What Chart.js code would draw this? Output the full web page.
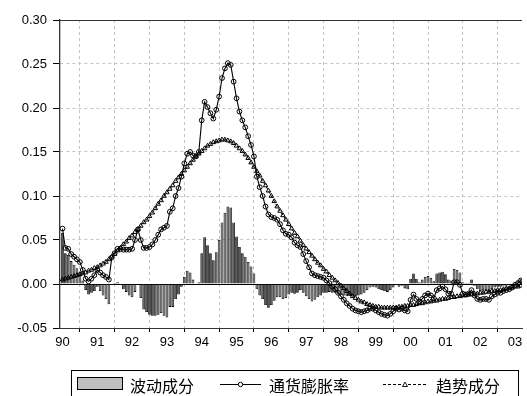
<!DOCTYPE html>
<html>
<head>
<meta charset="utf-8">
<script src="https://cdn.jsdelivr.net/npm/chart.js@4.4.1/dist/chart.umd.min.js"></script>
<style>
html,body{margin:0;padding:0;background:#fff;width:527px;height:396px;overflow:hidden;}
#wrap{position:relative;width:527px;height:396px;}
#c{position:absolute;left:0;top:0;}
#legend{position:absolute;left:71px;top:370px;width:448px;height:32px;border:1px solid #000;box-sizing:border-box;font-family:"Noto Sans CJK SC",sans-serif;font-size:16px;color:#000;}
#legend .it{position:absolute;top:0;height:28px;line-height:28px;white-space:nowrap;}
#legend svg{position:absolute;}
</style>
</head>
<body>
<div id="wrap">
<canvas id="c" width="527" height="396"></canvas>
<div id="legend">
  <svg style="left:5px;top:6px" width="47" height="14"><rect x="0.5" y="0.5" width="45" height="12" fill="#c0c0c0" stroke="#000" stroke-width="1"/></svg>
  <span class="it" style="left:58px">波动成分</span>
  <svg style="left:148px;top:8px" width="42" height="10"><line x1="0" y1="5.5" x2="41" y2="5.5" stroke="#000" stroke-width="1"/><circle cx="20.5" cy="5.5" r="2.2" fill="#fff" stroke="#000" stroke-width="1"/></svg>
  <span class="it" style="left:197px">通货膨胀率</span>
  <svg style="left:311px;top:8px" width="44" height="10"><line x1="0" y1="5.5" x2="43" y2="5.5" stroke="#000" stroke-width="1" stroke-dasharray="3,2"/><polygon points="22,3 24.5,7.5 19.5,7.5" fill="#fff" stroke="#000" stroke-width="0.9"/></svg>
  <span class="it" style="left:364px">趋势成分</span>
</div>
</div>
<script>
// categories: monthly observations Jan 1990 .. Mar 2003
const months = [];
for (let i = 0; i < 159; i++) {
  months.push((1990 + Math.floor(i / 12)) + '-' + String(i % 12 + 1).padStart(2, '0'));
}
const yearLabels = ['90','91','92','93','94','95','96','97','98','99','00','01','02','03'];
const yTickValues = [-0.05, 0.00, 0.05, 0.10, 0.15, 0.20, 0.25, 0.30];

// 通货膨胀率
const inflation = [
  0.063,0.041,0.040,0.034,0.031,0.028,0.025,0.016,0.006,0.003,0.006,0.010,
  0.016,0.013,0.010,0.008,0.005,0.030,0.035,0.040,0.040,0.039,0.039,0.039,
  0.040,0.050,0.062,0.050,0.041,0.041,0.042,0.045,0.050,0.056,0.062,0.064,
  0.066,0.082,0.086,0.100,0.109,0.122,0.137,0.148,0.150,0.146,0.145,0.150,
  0.186,0.207,0.201,0.194,0.188,0.198,0.213,0.234,0.245,0.251,0.249,0.230,
  0.211,0.196,0.186,0.178,0.168,0.158,0.145,0.122,0.110,0.100,0.088,0.079,
  0.076,0.075,0.073,0.068,0.061,0.057,0.056,0.053,0.047,0.044,0.042,0.034,
  0.026,0.019,0.012,0.010,0.009,0.008,0.007,0.004,0.001,-0.003,-0.006,-0.010,
  -0.014,-0.018,-0.022,-0.025,-0.028,-0.030,-0.031,-0.032,-0.031,-0.030,-0.028,-0.028,
  -0.030,-0.032,-0.034,-0.035,-0.036,-0.034,-0.031,-0.028,-0.029,-0.028,-0.030,-0.031,
  -0.018,-0.012,-0.017,-0.020,-0.017,-0.013,-0.011,-0.013,-0.016,-0.007,-0.005,-0.003,
  -0.006,-0.011,-0.011,0.002,0.002,-0.001,-0.011,-0.012,-0.011,-0.007,-0.013,-0.017,
  -0.018,-0.017,-0.017,-0.018,-0.014,-0.012,-0.010,-0.010,-0.008,-0.007,-0.006,-0.004,
  -0.001,0.001,0.004
];

// 趋势成分
const trend = [
  0.005,0.006,0.007,0.008,0.009,0.010,0.011,0.012,0.013,0.015,0.016,0.018,
  0.019,0.021,0.023,0.025,0.028,0.031,0.034,0.038,0.041,0.045,0.048,0.052,
  0.055,0.059,0.062,0.066,0.070,0.073,0.077,0.081,0.086,0.091,0.095,0.100,
  0.104,0.108,0.112,0.117,0.121,0.125,0.129,0.133,0.137,0.141,0.145,0.148,
  0.151,0.154,0.157,0.159,0.161,0.162,0.163,0.164,0.164,0.163,0.162,0.160,
  0.157,0.154,0.151,0.147,0.143,0.138,0.133,0.128,0.123,0.117,0.112,0.106,
  0.100,0.094,0.088,0.083,0.078,0.073,0.068,0.063,0.058,0.054,0.049,0.044,
  0.040,0.036,0.032,0.028,0.024,0.021,0.017,0.014,0.010,0.007,0.004,0.001,
  -0.002,-0.005,-0.008,-0.011,-0.014,-0.016,-0.018,-0.020,-0.021,-0.023,-0.024,-0.025,
  -0.026,-0.026,-0.027,-0.027,-0.027,-0.027,-0.027,-0.027,-0.026,-0.026,-0.025,-0.025,
  -0.024,-0.024,-0.023,-0.022,-0.022,-0.021,-0.020,-0.020,-0.019,-0.019,-0.018,-0.017,
  -0.017,-0.016,-0.015,-0.015,-0.014,-0.014,-0.013,-0.013,-0.012,-0.012,-0.011,-0.011,
  -0.010,-0.010,-0.009,-0.009,-0.008,-0.008,-0.007,-0.007,-0.006,-0.005,-0.005,-0.004,
  -0.003,-0.003,-0.002
];

// 波动成分
const cycle = [
  0.058,0.035,0.033,0.026,0.022,0.018,0.014,0.004,-0.007,-0.012,-0.010,-0.008,
  -0.003,-0.008,-0.013,-0.017,-0.023,-0.001,0.001,0.002,-0.001,-0.006,-0.009,-0.013,
  -0.015,-0.009,0.000,-0.016,-0.029,-0.032,-0.035,-0.036,-0.036,-0.035,-0.033,-0.036,
  -0.038,-0.026,-0.026,-0.017,-0.012,-0.003,0.008,0.015,0.013,0.005,0.000,0.002,
  0.035,0.053,0.044,0.035,0.027,0.036,0.050,0.070,0.081,0.088,0.087,0.070,
  0.054,0.042,0.035,0.031,0.025,0.020,0.012,-0.006,-0.013,-0.017,-0.024,-0.027,
  -0.024,-0.019,-0.015,-0.015,-0.017,-0.016,-0.012,-0.010,-0.011,-0.010,-0.007,-0.010,
  -0.014,-0.017,-0.020,-0.018,-0.015,-0.013,-0.010,-0.010,-0.009,-0.010,-0.010,-0.011,
  -0.012,-0.013,-0.014,-0.014,-0.014,-0.014,-0.013,-0.012,-0.010,-0.007,-0.004,-0.003,
  -0.004,-0.006,-0.007,-0.008,-0.009,-0.007,-0.004,-0.001,-0.003,-0.002,-0.005,-0.006,
  0.006,0.012,0.006,0.002,0.005,0.008,0.009,0.007,0.003,0.012,0.013,0.014,
  0.011,0.005,0.004,0.017,0.016,0.013,0.002,0.001,0.001,0.005,-0.002,-0.006,
  -0.008,-0.007,-0.008,-0.009,-0.006,-0.004,-0.003,-0.003,-0.002,-0.002,-0.001,0.000,
  0.002,0.004,0.006
];

const toXY = arr => arr.map((v, i) => ({ x: i, y: v }));

const framePlugin = {
  id: 'frame',
  beforeDatasetsDraw(chart) {
    const { ctx, chartArea: a, scales: { y } } = chart;
    const y0 = Math.round(y.getPixelForValue(0)) + 0.5;
    ctx.save();
    ctx.strokeStyle = '#000';
    ctx.lineWidth = 1;
    ctx.beginPath();
    ctx.moveTo(a.left, y0);
    ctx.lineTo(a.right, y0);
    ctx.stroke();
    ctx.restore();
  },
  afterDraw(chart) {
    const { ctx, chartArea: a } = chart;
    ctx.save();
    ctx.strokeStyle = '#333';
    ctx.lineWidth = 1;
    ctx.beginPath();
    ctx.moveTo(a.left, a.top + 0.5);
    ctx.lineTo(a.right, a.top + 0.5);
    ctx.stroke();
    ctx.restore();
  }
};

const tickFont = { family: '"Liberation Sans", Arial, sans-serif', size: 13 };

new Chart(document.getElementById('c'), {
  type: 'bar',
  data: {
    labels: months,
    datasets: [
      {
        type: 'line', label: '通货膨胀率', data: toXY(inflation),
        borderColor: '#000', borderWidth: 1.1, tension: 0,
        pointStyle: 'circle', pointRadius: 2.4, pointBorderWidth: 1,
        pointBorderColor: '#000', pointBackgroundColor: 'rgba(255,255,255,0)',
        order: 1
      },
      {
        type: 'line', label: '趋势成分', data: toXY(trend),
        borderColor: '#000', borderWidth: 1, borderDash: [3, 2], tension: 0,
        pointStyle: 'triangle', pointRadius: 2.6, pointBorderWidth: 1,
        pointBorderColor: '#000', pointBackgroundColor: 'rgba(255,255,255,0)',
        order: 2
      },
      {
        type: 'bar', label: '波动成分', data: toXY(cycle),
        backgroundColor: '#5a5a5a', borderColor: '#000', borderWidth: 0.8,
        barPercentage: 0.95, categoryPercentage: 1.0,
        order: 3
      }
    ]
  },
  options: {
    responsive: false,
    animation: false,
    devicePixelRatio: 1,
    layout: { padding: { top: 20, right: 0, left: 0, bottom: 0 } },
    plugins: { legend: { display: false }, tooltip: { enabled: false } },
    scales: {
      x: {
        type: 'linear', min: -0.85, max: 158.4, offset: false,
        afterBuildTicks: s => { s.ticks = yearLabels.map((l, i) => ({ value: i * 12 })); },
        afterFit: s => { s.height = 68; },
        ticks: {
          autoSkip: false, maxRotation: 0, minRotation: 0, color: '#000', font: tickFont, padding: 3,
          callback: v => yearLabels[Math.round(v / 12)]
        },
        grid: { color: '#c4c4c4', lineWidth: 1, drawTicks: true, tickLength: 4, tickColor: '#000' },
        border: { display: true, color: '#333', width: 1, dash: [3, 3] }
      },
      y: {
        min: -0.05, max: 0.30,
        afterBuildTicks: s => { s.ticks = yTickValues.map(v => ({ value: v })); },
        afterFit: s => { s.width = 60; },
        ticks: { color: '#000', font: tickFont, padding: 6, callback: v => Number(v).toFixed(2) },
        grid: { color: '#c4c4c4', lineWidth: 1, drawTicks: true, tickLength: 7, tickColor: '#000' },
        border: { display: true, color: '#333', width: 1.3, dash: [3, 3] }
      }
    }
  },
  plugins: [framePlugin]
});
</script>
</body>
</html>
